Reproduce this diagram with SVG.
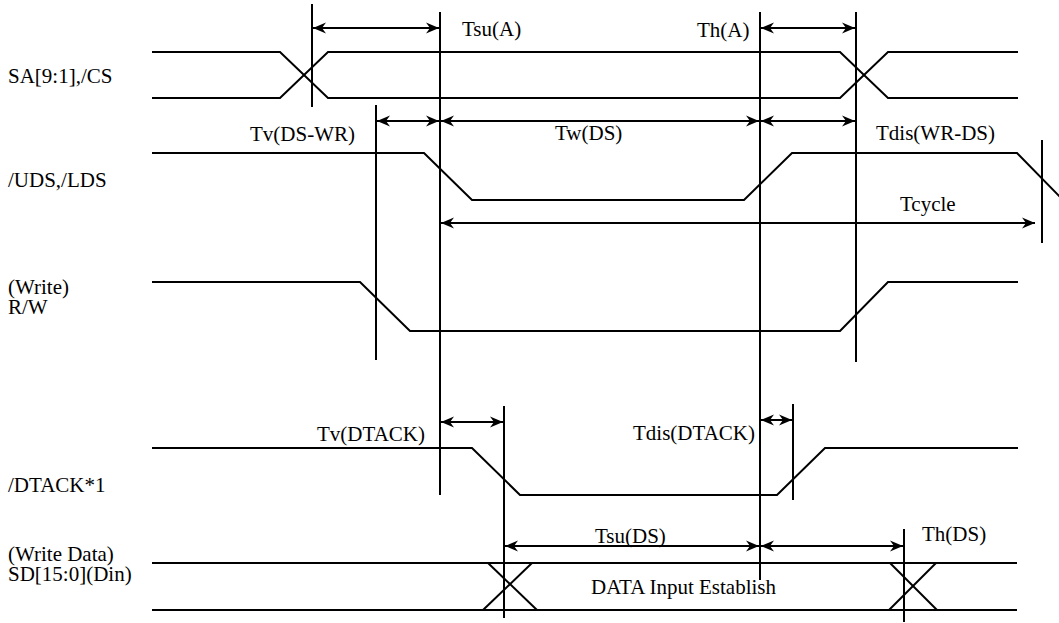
<svg xmlns="http://www.w3.org/2000/svg" width="1059" height="623" viewBox="0 0 1059 623">
<style>
.s{fill:none;stroke:#000;stroke-width:2;stroke-linejoin:miter}
.v{stroke:#000;stroke-width:2}
.a{stroke:#000;stroke-width:2;marker-start:url(#ah);marker-end:url(#ah)}
text{font-family:"Liberation Serif","Times New Roman",serif;font-size:21px;fill:#000}
</style>
<defs>
<marker id="ah" markerUnits="userSpaceOnUse" viewBox="-14 -6 15 12" refX="0" refY="0" markerWidth="15" markerHeight="12" orient="auto-start-reverse">
<path d="M-13,-5.5 L0,0 L-13,5.5 L-9,0 Z" fill="#000"/>
</marker>
</defs>
<rect width="1059" height="623" fill="#fff"/>
<g id="labels">
<text x="8" y="83">SA[9:1],/CS</text>
<text x="8" y="187">/UDS,/LDS</text>
<text x="8" y="294">(Write)</text>
<text x="8" y="314">R/W</text>
<text x="8" y="492">/DTACK*1</text>
<text x="8" y="561">(Write Data)</text>
<text x="8" y="581">SD[15:0](Din)</text>
</g>
<g id="sig-sa">
<polyline class="s" points="152,52 280,52 328,98 840,98 888,52 1018,52"/>
<polyline class="s" points="152,98 280,98 328,52 840,52 888,98 1018,98"/>
</g>
<g id="sig-uds">
<polyline class="s" points="152,153 424,153 472,200 744,200 792,153 1017,153 1066,203"/>
</g>
<g id="sig-rw">
<polyline class="s" points="152,282 360,282 410,331 840,331 888,282 1018,282"/>
</g>
<g id="sig-dtack">
<polyline class="s" points="152,448 472,448 520,495 777,495 825,448 1018,448"/>
</g>
<g id="sig-data">
<line class="s" x1="152" y1="563" x2="1017" y2="563"/>
<line class="s" x1="152" y1="610" x2="1017" y2="610"/>
<line class="s" x1="488" y1="563" x2="537" y2="610"/>
<line class="s" x1="483" y1="610" x2="532" y2="563"/>
<line class="s" x1="890" y1="563" x2="937" y2="610"/>
<line class="s" x1="889" y1="610" x2="936" y2="563"/>
<text x="591" y="594">DATA Input Establish</text>
</g>
<g id="connectors">
<line class="v" x1="312" y1="4" x2="312" y2="107"/>
<line class="v" x1="440" y1="12" x2="440" y2="495"/>
<line class="v" x1="760" y1="12" x2="760" y2="580"/>
<line class="v" x1="856" y1="12" x2="856" y2="362"/>
<line class="v" x1="376" y1="105" x2="376" y2="360"/>
<line class="v" x1="1042" y1="140" x2="1042" y2="243"/>
<line class="v" x1="504" y1="406" x2="504" y2="618"/>
<line class="v" x1="793" y1="404" x2="793" y2="500"/>
<line class="v" x1="904" y1="529" x2="904" y2="622"/>
<line class="a" x1="313" y1="28" x2="439" y2="28"/>
<line class="a" x1="761" y1="28" x2="855" y2="28"/>
<line class="a" x1="377" y1="121" x2="439" y2="121"/>
<line class="a" x1="441" y1="121" x2="759" y2="121"/>
<line class="a" x1="761" y1="121" x2="855" y2="121"/>
<line class="a" x1="441" y1="223" x2="1035" y2="223"/>
<line class="a" x1="441" y1="422" x2="503" y2="422"/>
<line class="a" x1="761" y1="420" x2="792" y2="420"/>
<line class="a" x1="505" y1="546" x2="759" y2="546"/>
<line class="a" x1="761" y1="546" x2="903" y2="546"/>
</g>
<g id="timing-labels">
<text x="462" y="36">Tsu(A)</text>
<text x="697" y="37">Th(A)</text>
<text x="250" y="141">Tv(DS-WR)</text>
<text x="555" y="140">Tw(DS)</text>
<text x="876" y="140">Tdis(WR-DS)</text>
<text x="900" y="211">Tcycle</text>
<text x="317" y="441">Tv(DTACK)</text>
<text x="633" y="440">Tdis(DTACK)</text>
<text x="595" y="543">Tsu(DS)</text>
<text x="922" y="541">Th(DS)</text>
</g>
</svg>
